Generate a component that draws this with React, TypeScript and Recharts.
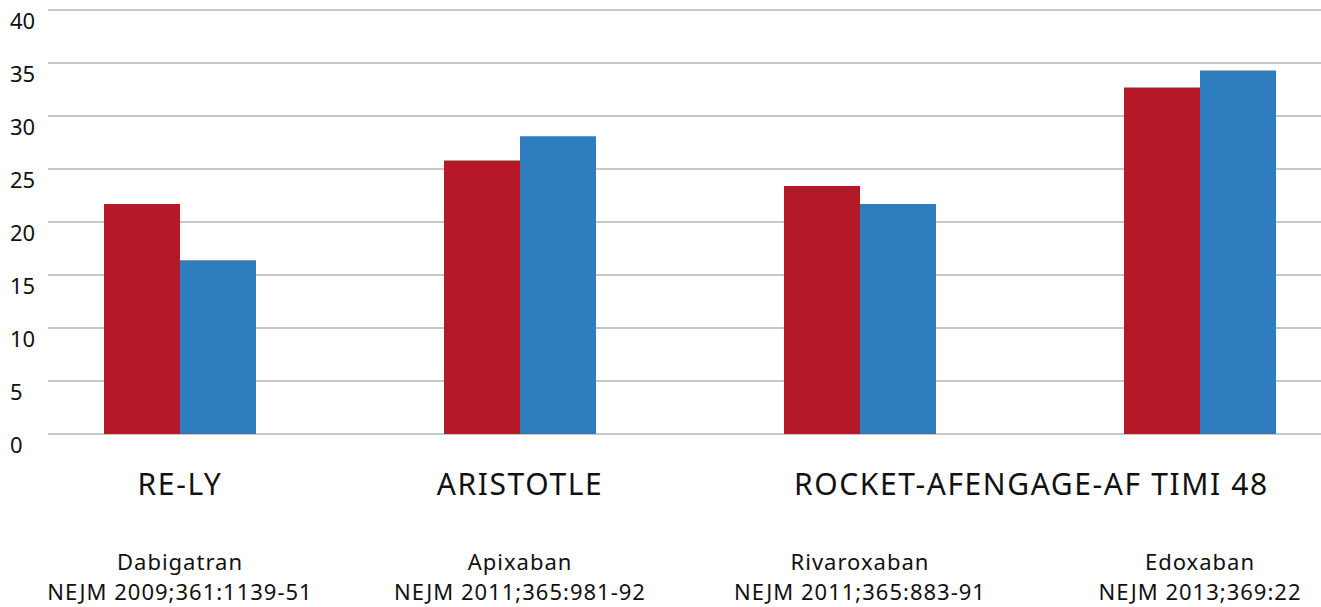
import React from 'react';
import { BarChart, Bar, XAxis, YAxis, CartesianGrid } from 'recharts';

const trials = ['RE-LY', 'ARISTOTLE', 'ROCKET-AF', 'ENGAGE-AF TIMI 48'];
const drugs = ['Dabigatran', 'Apixaban', 'Rivaroxaban', 'Edoxaban'];
const refs = ['NEJM 2009;361:1139-51', 'NEJM 2011;365:981-92', 'NEJM 2011;365:883-91', 'NEJM 2013;369:22'];
const redValues = [21.7, 25.8, 23.4, 32.7];
const blueValues = [16.4, 28.1, 21.7, 34.3];
const yTicks = [0, 5, 10, 15, 20, 25, 30, 35, 40];

const FONT = '"Noto Sans", Lato, sans-serif';

const YTick = (props: any) => {
  const { y, payload } = props;
  return (
    <text x={10} y={y + 19} fontSize={22} fill="#111" fontFamily={FONT} textAnchor="start">
      {payload.value}
    </text>
  );
};

const XTick = (props: any) => {
  const { x, y, payload } = props;
  const i = payload.index;
  // the 3rd and 4th trial names run together in the original
  let name = null;
  if (i === 2) {
    name = (
      <text x={x - 66} y={y + 53} fontSize={30} letterSpacing={1.6} fill="#111" fontFamily={FONT} textAnchor="start">
        {trials[2] + trials[3]}
      </text>
    );
  } else if (i < 2) {
    name = (
      <text x={x} y={y + 53} fontSize={30} letterSpacing={1.6} fill="#111" fontFamily={FONT} textAnchor="middle">
        {trials[i]}
      </text>
    );
  }
  return (
    <g>
      {name}
      <text x={x} y={y + 128} fontSize={22} letterSpacing={1} fill="#111" fontFamily={FONT} textAnchor="middle">
        {drugs[i]}
      </text>
      <text x={x} y={y + 158} fontSize={22} letterSpacing={1} fill="#111" fontFamily={FONT} textAnchor="middle">
        {refs[i]}
      </text>
    </g>
  );
};

const App = () => {
  const data = [];
  for (let i = 0; i < trials.length; i++) {
    data.push({ name: trials[i], red: redValues[i], blue: blueValues[i] });
  }
  return (
    <div style={{ position: 'absolute', left: 0, top: 0, width: 1321, height: 607, overflow: 'hidden' }}>
      <BarChart
        width={1321}
        height={607}
        data={data}
        barCategoryGap={94}
        barGap={0}
        margin={{ top: 10, right: 0, left: 0, bottom: 0 }}
        style={{ display: 'block' }}
      >
        <CartesianGrid vertical={false} stroke="#b4b4b4" strokeWidth={1.5} />
        <XAxis
          dataKey="name"
          height={173}
          axisLine={false}
          tickLine={false}
          interval={0}
          padding={{ left: -38, right: -49 }}
          tick={<XTick />}
        />
        <YAxis
          width={48}
          domain={[0, 40]}
          ticks={yTicks}
          axisLine={false}
          tickLine={false}
          tick={<YTick />}
        />
        <Bar dataKey="red" fill="#b51928" isAnimationActive={false} />
        <Bar dataKey="blue" fill="#2e7dbf" isAnimationActive={false} />
      </BarChart>
    </div>
  );
};

export default App;
